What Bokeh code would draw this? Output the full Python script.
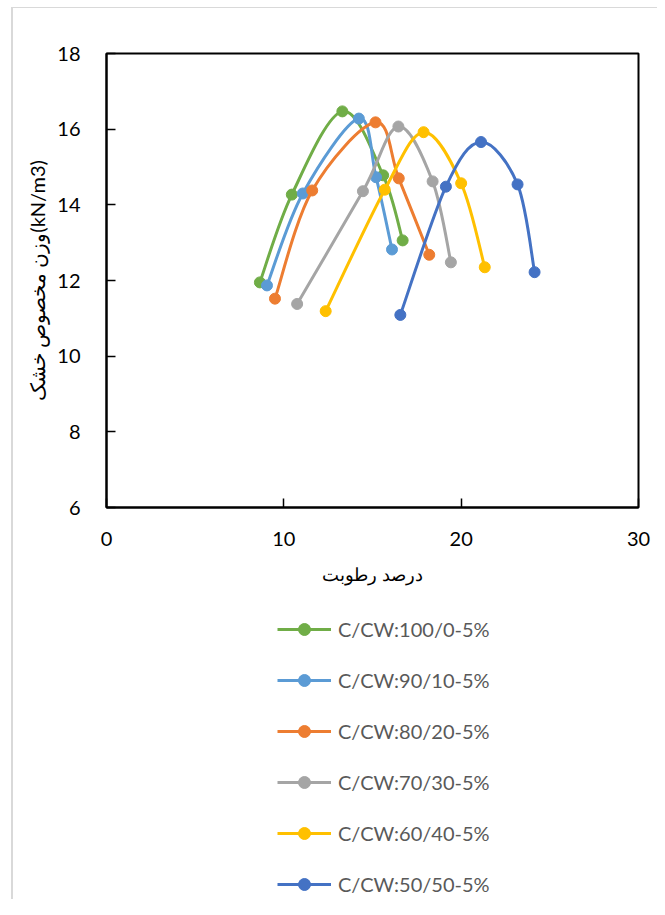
import numpy as np
from bokeh.plotting import figure
from bokeh.layouts import column
from bokeh.models import Range1d, FixedTicker, Legend, LegendItem
from bokeh.embed import file_html
from bokeh.resources import INLINE

# ---------------- data ----------------
series_names = ["C/CW:100/0-5%", "C/CW:90/10-5%", "C/CW:80/20-5%",
                "C/CW:70/30-5%", "C/CW:60/40-5%", "C/CW:50/50-5%"]
series_colors = ["#70AD47", "#5B9BD5", "#ED7D31", "#A5A5A5", "#FFC000", "#4472C4"]

moisture_100_0 = [8.65, 10.45, 13.30, 15.60, 16.70]
density_100_0 = [11.95, 14.27, 16.47, 14.78, 13.06]

moisture_90_10 = [9.05, 11.07, 14.23, 15.20, 16.10]
density_90_10 = [11.87, 14.30, 16.28, 14.73, 12.82]

moisture_80_20 = [9.50, 11.60, 15.17, 16.48, 18.20]
density_80_20 = [11.52, 14.38, 16.18, 14.70, 12.68]

moisture_70_30 = [10.75, 14.46, 16.46, 18.39, 19.42]
density_70_30 = [11.38, 14.36, 16.07, 14.62, 12.48]

moisture_60_40 = [12.36, 15.69, 17.88, 20.00, 21.33]
density_60_40 = [11.19, 14.40, 15.92, 14.57, 12.35]

moisture_50_50 = [16.57, 19.14, 21.12, 23.18, 24.14]
density_50_50 = [11.09, 14.48, 15.66, 14.54, 12.22]

x_ticks = [0, 10, 20, 30]
y_ticks = [6, 8, 10, 12, 14, 16, 18]
x_title = "درصد رطوبت"
y_title = "وزن مخصوص خشک(kN/m3)"

all_x = [moisture_100_0, moisture_90_10, moisture_80_20, moisture_70_30, moisture_60_40, moisture_50_50]
all_y = [density_100_0, density_90_10, density_80_20, density_70_30, density_60_40, density_50_50]


def smooth_segments(xs, ys):
    """Catmull-Rom style cubic Bezier control points (Excel 'smoothed line')."""
    x = np.asarray(xs, float)
    y = np.asarray(ys, float)
    n = len(x)
    out = dict(x0=[], y0=[], x1=[], y1=[], cx0=[], cy0=[], cx1=[], cy1=[])
    for i in range(n - 1):
        a = max(i - 1, 0)
        d = min(i + 2, n - 1)
        out["x0"].append(x[i]); out["y0"].append(y[i])
        out["x1"].append(x[i + 1]); out["y1"].append(y[i + 1])
        out["cx0"].append(x[i] + (x[i + 1] - x[a]) / 6.0)
        out["cy0"].append(y[i] + (y[i + 1] - y[a]) / 6.0)
        out["cx1"].append(x[i + 1] - (x[d] - x[i]) / 6.0)
        out["cy1"].append(y[i + 1] - (y[d] - y[i]) / 6.0)
    return out


FONT = "Lato"

# ---------------- main chart ----------------
p = figure(frame_width=532, frame_height=454, output_backend="svg", toolbar_location=None,
           x_range=Range1d(0, 30), y_range=Range1d(6, 18),
           min_border_left=93, min_border_top=45, min_border_right=19,
           min_border_bottom=100)

p.xgrid.visible = False
p.ygrid.visible = False
p.outline_line_color = "black"
p.outline_line_width = 2
p.background_fill_color = "white"
p.border_fill_color = "white"

for col, xs, ys in zip(series_colors, all_x, all_y):
    seg = smooth_segments(xs, ys)
    p.bezier(line_color=col, line_width=3, **seg)
    p.scatter(xs, ys, size=11, fill_color=col, line_color=col)

for ax in (p.xaxis[0], p.yaxis[0]):
    ax.axis_line_color = "black"
    ax.axis_line_width = 2
    ax.major_tick_line_color = "black"
    ax.major_tick_line_width = 1.5
    ax.major_tick_in = 9
    ax.major_tick_out = 0
    ax.minor_tick_line_color = None
    ax.major_label_text_font = FONT
    ax.major_label_text_font_size = "20px"
    ax.major_label_text_color = "black"
    ax.axis_label_text_font = FONT
    ax.axis_label_text_font_style = "normal"
    ax.axis_label_text_color = "black"

p.xaxis[0].axis_label_text_font_size = "18px"
p.yaxis[0].axis_label_text_font_size = "20px"
p.xaxis[0].ticker = FixedTicker(ticks=x_ticks)
p.yaxis[0].ticker = FixedTicker(ticks=y_ticks)
p.xaxis[0].axis_label = x_title
p.yaxis[0].axis_label = y_title
p.xaxis[0].major_label_standoff = 24
p.xaxis[0].axis_label_standoff = 14
p.yaxis[0].major_label_standoff = 26
p.yaxis[0].axis_label_standoff = 5

# ---------------- legend panel (below the chart) ----------------
lg = figure(width=644, height=292, output_backend="svg", toolbar_location=None,
            x_range=Range1d(-10, -9), y_range=Range1d(-10, -9),
            min_border=0, x_axis_type=None, y_axis_type=None)
lg.xgrid.visible = False
lg.ygrid.visible = False
lg.outline_line_color = None
lg.background_fill_color = "white"
lg.border_fill_color = "white"

legend_items = []
for name, col, xs, ys in zip(series_names, series_colors, all_x, all_y):
    seg = smooth_segments(xs, ys)
    bz = lg.bezier(line_color=col, line_width=3, **seg)
    sc = lg.scatter(xs, ys, size=11, fill_color=col, line_color=col)
    legend_items.append(LegendItem(label=name, renderers=[bz, sc]))

legend = Legend(items=legend_items, location=(171, 0), orientation="vertical")
legend.label_text_font = FONT
legend.label_text_font_size = "20px"
legend.label_text_color = "#595959"
legend.glyph_width = 54
legend.glyph_height = 30
legend.label_height = 20
legend.spacing = 21
legend.label_standoff = 7
legend.padding = 0
legend.margin = 0
legend.border_line_alpha = 0
legend.background_fill_alpha = 0
lg.add_layout(legend, "center")

layout = column(p, lg, spacing=0, margin=(7, 0, 0, 11),
                styles={"border-top": "1px solid #d9d9d9",
                        "border-left": "2px solid #d9d9d9"})
open("out.html", "w").write(file_html(layout, INLINE))
